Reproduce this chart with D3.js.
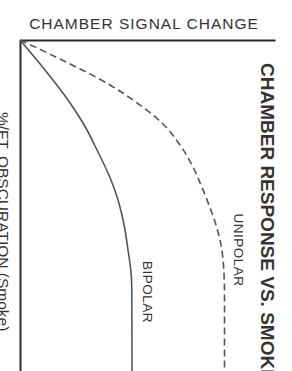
<!DOCTYPE html>
<html>

<head>
  <meta charset="utf-8">
  <title>Chamber response vs. smoke</title>
  <script src="https://cdnjs.cloudflare.com/ajax/libs/d3/7.8.5/d3.min.js"></script>
  <style>
    body {
      margin: 0;
      background: #fff;
    }
    text {
      font-family: "Liberation Sans", Arial, sans-serif;
      fill: #333;
    }
  </style>
</head>

<body>
  <script>
    // obscuration (% of plotted range) down the side, signal change across the top
    var bipolarObsc = [0, 9.06, 18.13, 27.19, 33.23, 42.30, 48.34, 57.40, 63.44, 69.49, 75.53, 100];
    var bipolarSignal = [0, 9.80, 18.82, 26.27, 30.20, 35.69, 38.43, 41.18, 42.35, 43.45, 43.84, 43.92];
    var unipolarObsc = [0, 6.04, 13.60, 18.13, 25.08, 31.72, 37.76, 43.81, 49.85, 55.89, 61.93, 67.98, 77.04, 100];
    var unipolarSignal = [0, 16.47, 35.29, 44.31, 55.69, 62.75, 67.45, 70.98, 74.12, 76.86, 78.82, 79.80, 80.20, 80.20];
    var seriesNames = ["BIPOLAR", "UNIPOLAR"];

    var W = 292, H = 371;
    var svg = d3.select("body").append("svg")
      .attr("width", W)
      .attr("height", H);

    var x = d3.scaleLinear().domain([0, 100]).range([20, 275]);
    var y = d3.scaleLinear().domain([0, 100]).range([40, 371]);

    // axes: signal change along the top, obscuration down the left
    svg.append("g")
      .attr("transform", "translate(0," + y(0) + ")")
      .call(d3.axisTop(x).tickValues([]).tickSizeOuter(0))
      .call(function (g) { g.select(".domain").attr("stroke", "#2a2a2a").attr("stroke-width", 2); });

    svg.append("g")
      .attr("transform", "translate(" + x(0) + ",0)")
      .call(d3.axisLeft(y).tickValues([]).tickSizeOuter(0))
      .call(function (g) { g.select(".domain").attr("stroke", "#2a2a2a").attr("stroke-width", 2); });

    var line = d3.line()
      .x(function (d) { return x(d[1]); })
      .y(function (d) { return y(d[0]); })
      .curve(d3.curveMonotoneY);

    function pairs(o, s) {
      return o.map(function (v, i) { return [v, s[i]]; });
    }

    var series = [
      { name: seriesNames[0], values: pairs(bipolarObsc, bipolarSignal), dash: null },
      { name: seriesNames[1], values: pairs(unipolarObsc, unipolarSignal), dash: "7,4" }
    ];

    svg.selectAll("path.curve")
      .data(series)
      .enter().append("path")
      .attr("class", "curve")
      .attr("fill", "none")
      .attr("stroke", "#555")
      .attr("stroke-width", 1.6)
      .attr("stroke-dasharray", function (d) { return d.dash; })
      .attr("d", function (d) { return line(d.values); });

    // top label
    svg.append("text")
      .attr("x", 144)
      .attr("y", 29)
      .attr("text-anchor", "middle")
      .style("font-size", "15.5px")
      .style("letter-spacing", "1px")
      .text("CHAMBER SIGNAL CHANGE");

    // side label, partly off the left edge
    svg.append("text")
      .attr("transform", "translate(-2,112) rotate(90)")
      .style("font-size", "15.5px")
      .text("%/FT. OBSCURATION (Smoke)");

    // title, running off the bottom
    svg.append("text")
      .attr("transform", "translate(261,63) rotate(90)")
      .style("font-size", "19px")
      .style("font-weight", "bold")
      .text("CHAMBER RESPONSE VS. SMOKE");

    // curve names
    svg.append("text")
      .attr("transform", "translate(143,292) rotate(90)")
      .attr("text-anchor", "middle")
      .style("font-size", "13.5px")
      .style("letter-spacing", "0.5px")
      .text(seriesNames[0]);

    svg.append("text")
      .attr("transform", "translate(234,250) rotate(90)")
      .attr("text-anchor", "middle")
      .style("font-size", "13.5px")
      .style("letter-spacing", "0.5px")
      .text(seriesNames[1]);
  </script>
</body>

</html>
